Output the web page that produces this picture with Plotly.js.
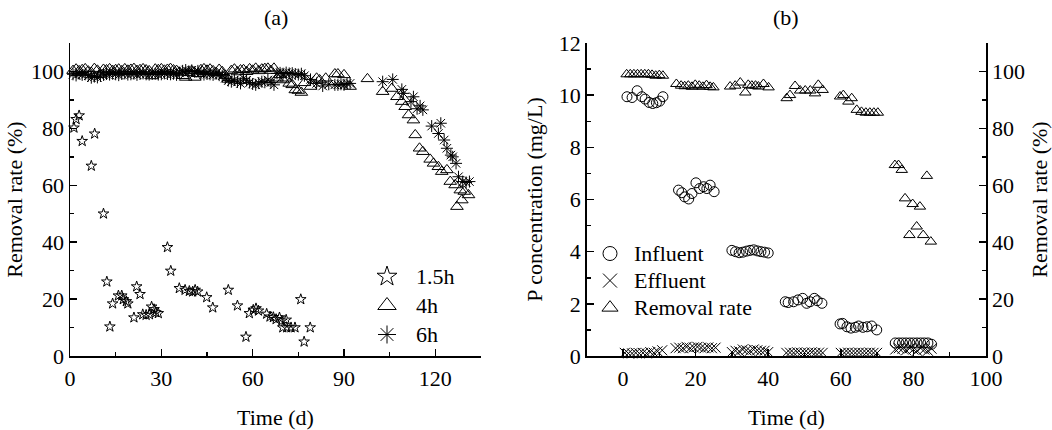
<!DOCTYPE html>
<html>
<head>
<meta charset="utf-8">
<script src="https://cdn.plot.ly/plotly-3.0.1.min.js"></script>
<style>html,body{margin:0;padding:0;background:#fff}#chart{width:1052px;height:430px}</style>
</head>
<body>
<div id="chart"></div>
<script>
// ---------- Panel (a): removal rate vs time for three HRTs ----------
const seriesNamesA = ["1.5h", "4h", "6h"];

const x15 = [1.3,2.0,3.0,4.0,7.0,8.1,11.0,12.1,13.1,14.0,15.9,17.0,17.5,18.5,19.0,21.0,21.9,23.0,23.9,25.0,26.1,26.8,27.6,28.2,29.0,32.0,33.1,35.9,37.8,39.2,40.3,41.1,41.9,44.9,46.9,52.0,55.0,57.8,58.9,60.2,61.1,61.9,64.6,65.7,66.8,67.7,68.8,69.6,71.0,69.9,71.2,72.6,73.9,75.8,76.9,78.9];
const y15 = [80.2,83.2,84.5,75.5,66.8,78.1,50.0,26.1,10.3,18.4,21.2,21.2,19.9,19.2,18.4,13.5,24.4,21.7,14.6,14.4,14.6,17.3,16.4,15.3,15.0,38.2,29.9,23.8,23.2,22.8,22.6,23.2,22.6,20.6,17.0,23.2,17.7,6.7,15.0,16.2,16.7,15.9,14.8,13.8,13.6,12.9,13.5,12.4,12.7,10.0,10.0,10.0,10.0,19.9,5.0,10.0];

const x4 = [1,2,3,4,5,6,7,8,9,10,11,12,13,14,15,16,17,18,19,20,21,22,23,24,25,26,27,28,29,30,31,32,33,34,35,36,37,38,39,40,41,42,43,44,45,46,47,48,49,50,51,52,53,54,55,56,57,58,59,60,61,62,63,64,65,66,67,68,69,70,71,72,73,74,75,76,77,79,81,82,84,87,88,90,92,97.7,102.7,105.7,107.4,109,110.1,111.2,112.8,113.4,114.8,115.9,118.3,119.4,121,122.1,123.8,124.9,126.5,127.1,128.2,128.7,129.5,130.9];
const y4 = [100.3,100.8,100.2,100.6,100.9,100.1,99.6,101.0,100.4,98.9,100.7,100.5,100.9,100.3,100.6,100.8,100.2,100.9,100.4,100.7,101.0,100.3,100.6,100.9,100.5,100.2,98.4,100.8,100.6,100.9,100.4,100.7,101.0,100.5,100.3,99.7,98.5,97.9,99.5,100.2,97.9,99.2,100.6,100.9,100.4,100.8,100.2,99.6,100.7,99.9,98.6,97.2,100.3,100.8,99.8,100.5,100.6,99.9,100.9,100.4,101.1,100.2,100.8,101.0,101.1,100.3,101.1,97.6,98.8,97.0,97.6,95.8,95.3,93.5,93.3,92.6,96.0,94.7,97.6,97.0,97.6,99.1,99.1,98.8,94.7,97.4,92.9,94.0,91.1,89.4,87.6,84.7,82.9,77.7,73.0,71.8,69.1,67.7,66.5,64.8,65.4,61.3,60.1,52.5,58.3,54.8,57.8,56.6];

const x6 = [1,2,3,4,5,6,7,8,9,10,11,12,13,14,15,16,17,18,19,20,21,22,23,24,25,26,27,28,29,30,31,32,33,34,35,36,37,38,39,40,41,42,43,44,45,46,47,48,49,50,51,52,53,54,55,56,57,58,59,60,61,62,63,64,65,66,67,68,69,70,71,72,73,74,75,76,77,79,81,83,85,87,88,89,90,91,92,102.7,106,109,109.5,112,112.8,114,115,115.9,118.8,121.8,121,122.9,123.8,125.1,125.7,126.8,127.6,129,130.1,131.2];
const y6 = [99.0,98.6,99.2,98.8,99.0,98.5,97.8,98.2,97.9,98.4,98.8,99.1,98.9,99.2,99.0,98.7,99.1,99.3,98.9,99.0,99.2,98.8,99.1,99.3,99.0,98.9,99.1,99.2,98.9,99.0,99.3,99.1,99.0,99.2,98.8,99.5,100.2,100.5,100.0,100.4,99.8,100.2,99.3,98.9,99.1,99.0,98.8,99.2,98.7,98.5,97.6,96.8,96.4,97.0,96.3,95.8,97.6,96.9,96.1,95.6,95.3,95.9,96.4,96.2,97.0,96.1,95.3,99.3,99.5,99.2,99.6,99.3,99.4,99.1,98.9,99.2,98.5,97.2,95.8,94.9,95.5,95.3,95.3,95.5,95.3,95.8,95.8,96.4,97.2,93.7,92.3,89.4,91.1,86.9,87.9,86.5,80.8,81.8,78.2,75.9,73.0,70.6,70.0,67.7,63.0,61.3,61.0,61.3];

// ---------- Panel (b): phosphorus concentrations and removal rate ----------
const seriesNamesB = ["Influent", "Effluent", "Removal rate"];

const xInf = [1.1,2.5,3.9,5.2,6.1,7.2,8.2,9.2,10.1,11.0, 15.3,16.2,17.0,18.1,19.0,20.1,21.1,22.2,23.1,24.0,25.1, 30,31,32,33,34,35,36,37,38,39,40, 44.7,45.5,47.0,48.2,49.5,50.6,51.5,52.7,53.5,54.8, 59.8,60.5,61.7,62.8,64.0,64.9,66.1,67.2,68.5,69.9, 75,76,77,78,79,80,81,82,83,84,85];
const yInf = [9.94,9.91,10.17,9.94,9.85,9.72,9.68,9.71,9.77,9.94, 6.36,6.26,6.10,6.02,6.23,6.64,6.42,6.49,6.42,6.55,6.30, 4.05,4.00,3.96,3.98,4.02,4.05,4.07,4.03,4.00,3.98,3.95, 2.08,2.05,2.08,2.15,2.21,2.02,2.08,2.21,2.12,2.02, 1.23,1.25,1.12,1.07,1.10,1.15,1.10,1.12,1.15,1.00, 0.50,0.50,0.50,0.50,0.50,0.50,0.50,0.50,0.50,0.50,0.45];

const xEff = [0.5,1.5,2.5,3.5,4.5,5.5,6.5,7.5,8.5,9.5,10.8, 14.5,15.5,16.5,17.5,18.5,19.5,20.5,21.5,22.5,23.5,24.5,25.5, 30,31,32,33,34,35,36,37,38,39,40, 45,46,47,48,49,50,51,52,53,54,55, 60,61,62,63,64,65,66,67,68,69,70, 75,76,77,78,79,80,81,82,83,84,85];
const yEff = [0.12,0.10,0.10,0.12,0.10,0.12,0.10,0.15,0.12,0.18,0.22, 0.30,0.32,0.30,0.35,0.30,0.33,0.35,0.32,0.30,0.33,0.30,0.32, 0.15,0.20,0.18,0.25,0.22,0.20,0.25,0.22,0.20,0.20,0.15, 0.12,0.13,0.12,0.14,0.12,0.13,0.12,0.14,0.12,0.13,0.12, 0.12,0.12,0.13,0.12,0.12,0.13,0.12,0.12,0.13,0.12,0.12, 0.25,0.30,0.28,0.22,0.30,0.25,0.20,0.30,0.25,0.20,0.28];

const xRem = [1,2,3,4,5,6,7,8,9,10,11, 14.7,16,17,18,19,19.9,21,22,23,24,24.9, 29.5,30.9,32.3,33.7,34.5,35.5,36.5,37.3,38.7,40.1, 45.1,46,47.4,48.8,50.2,51.6,52.9,53.8,55, 59.8,60.7,62.1,63,64.4,65.7,66.9,68,69.1,70.2, 74.9,75.9,76.8,83.7,77.7,79.8,81.8,80.9,78.9,82.7,84.8];
const yRem = [99.0,99.0,99.0,99.0,99.0,99.0,99.0,98.8,98.5,98.7,98.5, 95.6,95.0,94.8,95.0,94.6,95.3,95.0,94.6,95.2,94.6,94.4, 94.7,95.0,96.1,92.6,95.3,95.0,95.0,94.7,95.6,94.4, 90.6,91.7,94.9,93.3,93.3,93.3,92.3,95.3,93.5, 91.2,91.7,89.4,90.6,86.5,85.8,85.5,85.5,85.5,85.5, 67.1,67.1,65.4,63.3,55.4,53.4,52.5,45.5,42.5,42.5,40.2];

const FONT = "Liberation Serif, Times New Roman, serif";
const blackLine = {color: "#000", width: 1};

// legend label: drawn at 22px while the legend row spacing follows a smaller legend font
function lbl(t) { return '<span style="font-size:22px">' + t + '</span>'; }

function pts(x, y, name, sym, size, xa, ya, legendSize, legend) {
  return [
    {type: "scatter", mode: "markers", x: x, y: y, name: name, showlegend: false,
     xaxis: xa, yaxis: ya, cliponaxis: false,
     marker: {symbol: sym, size: size, color: "#000", line: blackLine}},
    {type: "scatter", mode: "markers", x: [null], y: [null], name: lbl(name), showlegend: true,
     legend: legend, xaxis: xa, yaxis: ya,
     marker: {symbol: sym, size: legendSize, color: "#000", line: blackLine}}
  ];
}

const traces = [].concat(
  pts(x15, y15, seriesNamesA[0], "star-open", 8, "x", "y", 15, "legend"),
  pts(x4, y4, seriesNamesA[1], "triangle-up-open", 11, "x", "y", 16, "legend"),
  pts(x6, y6, seriesNamesA[2], "asterisk-open", 10, "x", "y", 15, "legend"),
  pts(xInf, yInf, seriesNamesB[0], "circle-open", 10, "x2", "y2", 14, "legend2"),
  pts(xEff, yEff, seriesNamesB[1], "x-thin-open", 10, "x2", "y2", 14, "legend2"),
  pts(xRem, yRem, seriesNamesB[2], "triangle-up-open", 10, "x2", "y3", 14, "legend2")
);

const W = 1052, H = 430;
const yDom = [1 - 356 / H, 1 - 43 / H];
const axBase = {
  showline: true, linecolor: "#000", linewidth: 1.5,
  ticks: "inside", ticklen: 7, tickwidth: 1.5, tickcolor: "#000",
  showgrid: false, zeroline: false, automargin: false,
  tickfont: {family: FONT, size: 22, color: "#000"},
  minor: {ticks: "inside", ticklen: 4, tickwidth: 1.5, tickcolor: "#000", showgrid: false}
};
const titleFont = {family: FONT, size: 22, color: "#000"};

const layout = {
  width: W, height: H,
  margin: {l: 0, r: 0, t: 0, b: 0},
  paper_bgcolor: "#fff", plot_bgcolor: "rgba(0,0,0,0)",
  font: {family: FONT, size: 22, color: "#000"},
  xaxis: Object.assign({}, axBase, {
    domain: [70 / W, 481 / W], range: [0, 135], tick0: 0, dtick: 30,
    minor: Object.assign({}, axBase.minor, {dtick: 15}),
    anchor: "y", ticklabelstandoff: 2,
    title: {text: "Time (d)", font: titleFont, standoff: 20}
  }),
  yaxis: Object.assign({}, axBase, {
    domain: yDom, range: [0, 110], tick0: 0, dtick: 20,
    minor: Object.assign({}, axBase.minor, {dtick: 10}),
    anchor: "x",
    title: {text: "Removal rate (%)", font: titleFont, standoff: 2}
  }),
  xaxis2: Object.assign({}, axBase, {
    domain: [586.7 / W, 986 / W], range: [-10, 100], tick0: 0, dtick: 20,
    minor: Object.assign({}, axBase.minor, {dtick: 10, tick0: 0}),
    anchor: "y2", ticklabelstandoff: 2,
    title: {text: "Time (d)", font: titleFont, standoff: 20}
  }),
  yaxis2: Object.assign({}, axBase, {
    domain: yDom, range: [0, 12], tick0: 0, dtick: 2,
    minor: Object.assign({}, axBase.minor, {dtick: 1}),
    anchor: "x2",
    title: {text: "P concentration (mg/L)", font: titleFont, standoff: 10}
  }),
  yaxis3: Object.assign({}, axBase, {
    domain: yDom, range: [0, 110], tick0: 0, dtick: 20,
    minor: Object.assign({}, axBase.minor, {dtick: 10}),
    anchor: "x2", overlaying: "y2", side: "right",
    title: {text: "Removal rate (%)", font: titleFont, standoff: 9}
  }),
  legend: {
    x: 358 / W, y: 1 - 257 / H, xanchor: "left", yanchor: "top",
    bgcolor: "rgba(0,0,0,0)", borderwidth: 0, itemwidth: 48,
    font: {family: FONT, size: 20, color: "#000"}, tracegroupgap: 0
  },
  legend2: {
    x: 586 / W, y: 1 - 235 / H, xanchor: "left", yanchor: "top",
    bgcolor: "rgba(0,0,0,0)", borderwidth: 0, itemwidth: 38,
    font: {family: FONT, size: 18.5, color: "#000"}, tracegroupgap: 0
  },
  annotations: [
    {text: "(a)", xref: "paper", yref: "paper", x: 275.5 / W, y: 1 - 18 / H,
     xanchor: "center", yanchor: "middle", showarrow: false, font: titleFont},
    {text: "(b)", xref: "paper", yref: "paper", x: 786 / W, y: 1 - 18 / H,
     xanchor: "center", yanchor: "middle", showarrow: false, font: titleFont}
  ]
};

Plotly.newPlot("chart", traces, layout, {staticPlot: true, displayModeBar: false});
</script>
</body>
</html>
